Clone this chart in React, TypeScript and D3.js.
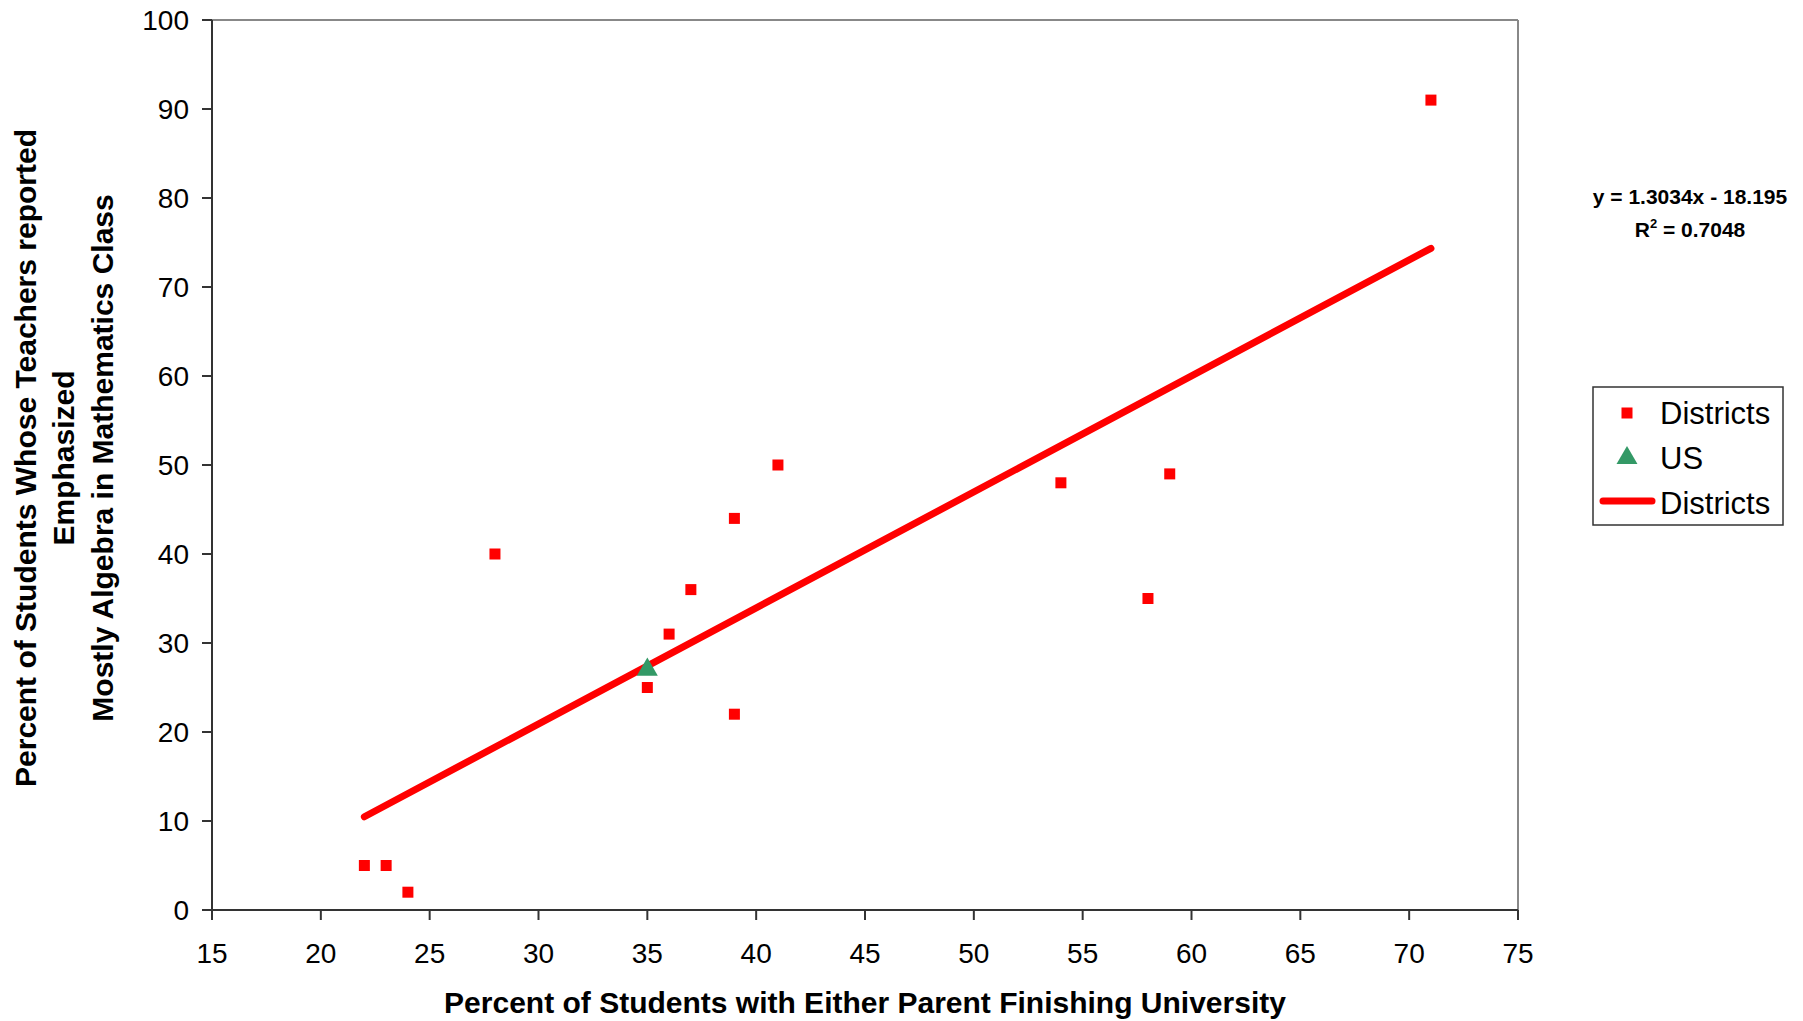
import React from "react";
import * as d3 from "d3";

const districtX = [22, 23, 24, 28, 35, 36, 37, 39, 39, 41, 54, 58, 59, 71];
const districtY = [5, 5, 2, 40, 25, 31, 36, 44, 22, 50, 48, 35, 49, 91];
const usX = [35];
const usY = [27];
const trendSlope = 1.3034;
const trendIntercept = -18.195;
const trendRange = [22, 71];
const xTicks = [15, 20, 25, 30, 35, 40, 45, 50, 55, 60, 65, 70, 75];
const yTicks = [0, 10, 20, 30, 40, 50, 60, 70, 80, 90, 100];
const legendLabels = ["Districts", "US", "Districts"];

const FONT = "Arial, 'Liberation Sans', Helvetica, sans-serif";

export default function App() {
  const W = 1803, H = 1021;
  const left = 212, right = 1518, top = 20, bottom = 910;
  const x = d3.scaleLinear().domain([15, 75]).range([left, right]);
  const y = d3.scaleLinear().domain([0, 100]).range([bottom, top]);
  const line = d3.line<number>().x((d) => x(d)).y((d) => y(trendSlope * d + trendIntercept));
  const tri = d3.symbol().type(d3.symbolTriangle).size(190)();

  return (
    <svg width={W} height={H} style={{ position: "absolute", left: 0, top: 0, background: "#fff" }} fontFamily={FONT}>
      <rect x={0} y={0} width={W} height={H} fill="#fff" />
      {/* frame */}
      <line x1={left} y1={top} x2={right} y2={top} stroke="#888" strokeWidth={2} />
      <line x1={right} y1={top} x2={right} y2={bottom} stroke="#888" strokeWidth={2} />
      <line x1={left} y1={top} x2={left} y2={bottom} stroke="#333" strokeWidth={2} />
      <line x1={left} y1={bottom} x2={right} y2={bottom} stroke="#333" strokeWidth={2} />
      {yTicks.map((t) => (
        <g key={"y" + t}>
          <line x1={left - 10} x2={left} y1={y(t)} y2={y(t)} stroke="#333" strokeWidth={2} />
          <text x={left - 23} y={y(t)} dy="0.36em" textAnchor="end" fontSize={28} fill="#000">{t}</text>
        </g>
      ))}
      {xTicks.map((t) => (
        <g key={"x" + t}>
          <line x1={x(t)} x2={x(t)} y1={bottom} y2={bottom + 10} stroke="#333" strokeWidth={2} />
          <text x={x(t)} y={963} textAnchor="middle" fontSize={28} fill="#000">{t}</text>
        </g>
      ))}
      {/* trend line */}
      <path d={line(trendRange) || ""} stroke="#ff0000" strokeWidth={7} fill="none" strokeLinecap="round" />
      {/* districts */}
      {districtX.map((dx, i) => (
        <rect key={"d" + i} x={x(dx) - 5.5} y={y(districtY[i]) - 5.5} width={11} height={11} fill="#ff0000" />
      ))}
      {usX.map((ux, i) => (
        <path key={"u" + i} d={tri || ""} transform={`translate(${x(ux)},${y(usY[i])})`} fill="#339966" />
      ))}
      {/* axis titles */}
      <text x={(left + right) / 2} y={1013} textAnchor="middle" fontSize={30} fontWeight="bold">
        Percent of Students with Either Parent Finishing University
      </text>
      <g transform={`translate(0,458) rotate(-90)`}>
        <text x={0} y={36} textAnchor="middle" fontSize={30} fontWeight="bold">Percent of Students Whose Teachers reported</text>
        <text x={0} y={74} textAnchor="middle" fontSize={30} fontWeight="bold">Emphasized</text>
        <text x={0} y={113} textAnchor="middle" fontSize={30} fontWeight="bold">Mostly Algebra in Mathematics Class</text>
      </g>
      {/* equation */}
      <text x={1690} y={204} textAnchor="middle" fontSize={21} fontWeight="bold">y = 1.3034x - 18.195</text>
      <text x={1690} y={237} textAnchor="middle" fontSize={21} fontWeight="bold">
        R<tspan dy={-9} fontSize={13}>2</tspan><tspan dy={9}> = 0.7048</tspan>
      </text>
      {/* legend */}
      <rect x={1593} y={387} width={190} height={138} fill="#fff" stroke="#333" strokeWidth={1.5} />
      <rect x={1627 - 5.5} y={413 - 5.5} width={11} height={11} fill="#ff0000" />
      <path d={tri || ""} transform="translate(1627,458)" fill="#339966" />
      <line x1={1603} x2={1652} y1={501} y2={501} stroke="#ff0000" strokeWidth={7} strokeLinecap="round" />
      {legendLabels.map((l, i) => (
        <text key={"l" + i} x={1660} y={424 + i * 45} fontSize={31} fill="#000">{l}</text>
      ))}
    </svg>
  );
}
